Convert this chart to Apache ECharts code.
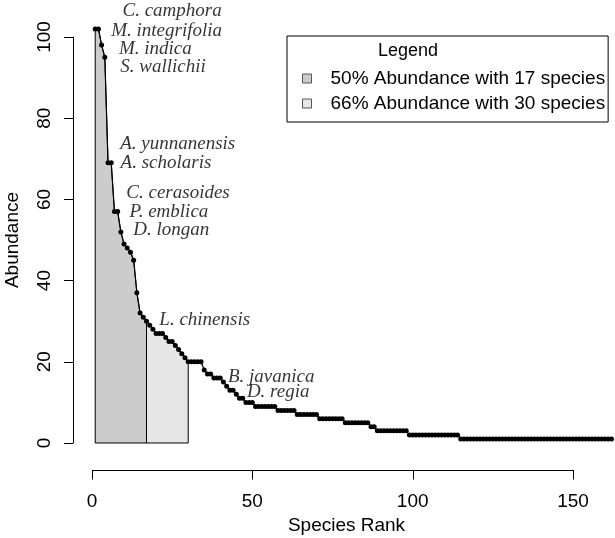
<!DOCTYPE html>
<html>
<head>
<meta charset="utf-8">
<script src="https://cdn.jsdelivr.net/npm/echarts@6/dist/echarts.min.js"></script>
<style>
  html, body { margin: 0; padding: 0; background: #fff; }
  #chart { width: 615px; height: 538px; }
</style>
</head>
<body>
<div id="chart"></div>
<script>
// abundance of each species, in rank order (rank = index + 1)
const abundance = [
  102, 102, 98, 95, 69, 69, 57, 57, 52, 49,
  48, 47, 45, 37, 32, 31, 30, 29, 28, 27,
  27, 27, 26, 25, 25, 24, 23, 22, 21, 20,
  20, 20, 20, 20, 18, 17, 17, 16, 16, 16,
  15, 14, 13, 13, 12, 11, 11, 10, 10, 10,
  9, 9, 9, 9, 9, 9, 9, 8, 8, 8,
  8, 8, 8, 7, 7, 7, 7, 7, 7, 7,
  6, 6, 6, 6, 6, 6, 6, 6, 5, 5,
  5, 5, 5, 5, 5, 5, 4, 4, 3, 3,
  3, 3, 3, 3, 3, 3, 3, 3, 2, 2,
  2, 2, 2, 2, 2, 2, 2, 2, 2, 2,
  2, 2, 2, 2, 1, 1, 1, 1, 1, 1,
  1, 1, 1, 1, 1, 1, 1, 1, 1, 1,
  1, 1, 1, 1, 1, 1, 1, 1, 1, 1,
  1, 1, 1, 1, 1, 1, 1, 1, 1, 1,
  1, 1, 1, 1, 1, 1, 1, 1, 1, 1,
  1, 1
];

// cut-offs for the shaded areas
const cut50 = 17;
const cut66 = 30;
const legendNames = ['50% Abundance with 17 species', '66% Abundance with 30 species'];

// species names and where their labels sit (rank, abundance)
const labelNames = ['C. camphora', 'M. integrifolia', 'M. indica', 'S. wallichii',
  'A. yunnanensis', 'A. scholaris', 'C. cerasoides', 'P. emblica', 'D. longan',
  'L. chinensis', 'B. javanica', 'D. regia'];
const labelRank = [9.5, 6.0, 8.4, 8.8, 8.8, 8.9, 10.7, 11.7, 12.9, 21.0, 42.4, 48.3];
const labelValue = [106.5, 101.4, 97.0, 92.5, 73.6, 69.0, 61.6, 56.9, 52.5, 30.4, 16.3, 12.6];

const xTicks = [0, 50, 100, 150];
const yTicks = [0, 20, 40, 60, 80, 100];

const points = abundance.map((v, i) => [i + 1, v]);
const poly50 = [[1, 0]].concat(points.slice(0, cut50), [[cut50, 0], [1, 0]]);
const poly66 = [[cut50, 0]].concat(points.slice(cut50 - 1, cut66), [[cut66, 0], [cut50, 0]]);

const sans = 'Liberation Sans, Arial, sans-serif';
const serif = 'Liberation Serif, Times New Roman, serif';
const axisText = { fontSize: 19, color: '#000', fontFamily: sans };

// x axis line and ticks, drawn on the x scale of grid 1
function renderXAxisLine(params, api) {
  const p = api.coord([api.value(0), 0]);
  const x = Math.round(p[0]) + 0.5;
  const y = Math.round(p[1]) + 0.5;
  const children = [{
    type: 'line',
    shape: { x1: x, y1: y, x2: x, y2: y + 9 },
    style: { stroke: '#000', lineWidth: 1 }
  }];
  if (params.dataIndex === 0) {
    const a = api.coord([xTicks[0], 0]);
    const b = api.coord([xTicks[xTicks.length - 1], 0]);
    children.push({
      type: 'line',
      shape: { x1: Math.round(a[0]), y1: y, x2: Math.round(b[0]) + 1, y2: y },
      style: { stroke: '#000', lineWidth: 1 }
    });
  }
  return { type: 'group', children };
}

const chart = echarts.init(document.getElementById('chart'));
chart.setOption({
  animation: false,
  title: {
    text: 'Legend',
    left: 378,
    top: 42,
    padding: 0,
    textStyle: { fontSize: 18, fontWeight: 'normal', fontFamily: sans, color: '#000' }
  },
  legend: {
    data: legendNames,
    orient: 'vertical',
    left: 287,
    top: 36,
    icon: 'rect',
    itemWidth: 9,
    itemHeight: 9,
    itemGap: 6,
    padding: [33, 3, 9, 15],
    borderColor: '#000',
    borderWidth: 1,
    selectedMode: false,
    itemStyle: { borderColor: '#555', borderWidth: 1 },
    textStyle: { fontSize: 19, color: '#000', fontFamily: sans, padding: [0, 0, 0, 14] }
  },
  // 0: plot area, 1: x axis, 2: y axis
  grid: [
    { left: 92, right: 42, top: 37, bottom: 95, outerBoundsMode: 'none' },
    { left: 92, right: 42, top: 300, bottom: 68, outerBoundsMode: 'none' },
    { left: 73, width: 10, top: 37, bottom: 95, outerBoundsMode: 'none' }
  ],
  xAxis: [
    { gridIndex: 0, type: 'value', min: 0, max: 150, show: false },
    {
      gridIndex: 1,
      type: 'value',
      min: xTicks[0],
      max: xTicks[xTicks.length - 1],
      interval: 50,
      position: 'bottom',
      name: 'Species Rank',
      nameLocation: 'middle',
      nameGap: 46,
      nameTextStyle: Object.assign({ padding: [0, 0, 0, 28] }, axisText),
      axisLine: { show: false },
      axisTick: { show: false },
      axisLabel: Object.assign({ margin: 22 }, axisText),
      splitLine: { show: false }
    },
    { gridIndex: 2, type: 'value', min: 0, max: 1, show: false }
  ],
  yAxis: [
    { gridIndex: 0, type: 'value', min: 0, max: 100, show: false },
    { gridIndex: 1, type: 'value', min: 0, max: 1, show: false },
    {
      gridIndex: 2,
      type: 'value',
      min: yTicks[0],
      max: yTicks[yTicks.length - 1],
      interval: 20,
      position: 'left',
      name: 'Abundance',
      nameLocation: 'middle',
      nameGap: 51,
      nameRotate: 90,
      nameTextStyle: axisText,
      axisLine: { show: true, onZero: false, lineStyle: { color: '#000', width: 1 } },
      axisTick: { show: true, length: 9, lineStyle: { color: '#000', width: 1 } },
      axisLabel: Object.assign({ rotate: 90, margin: 19 }, axisText),
      splitLine: { show: false }
    }
  ],
  series: [
    {
      name: legendNames[0],
      type: 'line',
      data: poly50,
      symbol: 'none',
      clip: false,
      color: '#cccccc',
      lineStyle: { color: '#000', width: 1 },
      areaStyle: { color: '#cccccc', opacity: 1 },
      z: 1
    },
    {
      name: legendNames[1],
      type: 'line',
      data: poly66,
      symbol: 'none',
      clip: false,
      color: '#e6e6e6',
      lineStyle: { color: '#000', width: 1 },
      areaStyle: { color: '#e6e6e6', opacity: 1 },
      z: 1
    },
    {
      name: 'abundance',
      type: 'line',
      data: points,
      symbol: 'circle',
      symbolSize: 5,
      showAllSymbol: true,
      clip: false,
      itemStyle: { color: '#000' },
      lineStyle: { color: '#000', width: 1.2 },
      z: 3
    },
    {
      name: 'labels',
      type: 'scatter',
      data: labelNames.map((n, i) => ({ name: n, value: [labelRank[i], labelValue[i]] })),
      symbolSize: 0,
      clip: false,
      silent: true,
      label: {
        show: true,
        position: 'right',
        distance: 0,
        formatter: p => p.name,
        fontFamily: serif,
        fontStyle: 'italic',
        fontSize: 19,
        color: '#000'
      },
      z: 4
    },
    {
      name: 'x axis',
      type: 'custom',
      xAxisIndex: 1,
      yAxisIndex: 1,
      data: xTicks.map(t => [t, 0]),
      renderItem: renderXAxisLine,
      clip: false,
      silent: true,
      z: 2
    }
  ]
});
</script>
</body>
</html>
